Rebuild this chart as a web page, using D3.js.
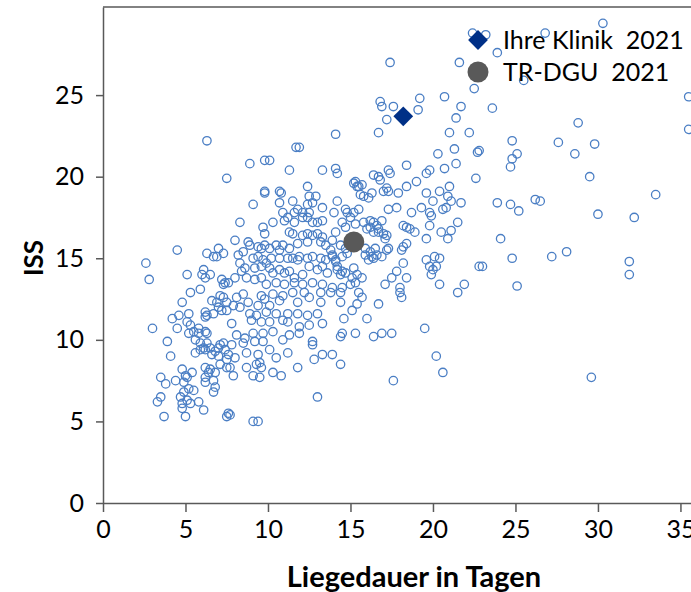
<!DOCTYPE html>
<html>
<head>
<meta charset="utf-8">
<script src="https://cdn.jsdelivr.net/npm/d3@7"></script>
<style>
  body { margin: 0; background: #fff; }
  svg { display: block; font-family: Lato, "Open Sans", sans-serif; }
</style>
</head>
<body>
<svg id="chart" width="691" height="592"></svg>
<script>
// tick labels
var xTicks = [0, 5, 10, 15, 20, 25, 30, 35];
var yTicks = [0, 5, 10, 15, 20, 25];
var legendLabels = ['Ihre Klinik  2021', 'TR-DGU  2021'];

// highlighted markers [Liegedauer, ISS]
var klinik = [18.2, 23.7];
var trdgu = [15.2, 16.0];

// single cases [Liegedauer, ISS]
var patienten = [
  [6.3,22.2],[8.9,20.8],[9.8,21.0],[10.1,21.0],[11.7,21.8],[11.3,20.4],
  [22.4,28.8],[23.2,28.7],[23.9,27.6],[17.4,27.0],[21.6,27.0],[22.5,25.4],[16.8,24.6],[16.9,24.3],
  [17.6,24.3],[19.2,24.8],[19.1,24.1],[20.7,24.9],[21.7,24.3],[23.6,24.2],[21.4,23.6],[17.2,23.5],
  [16.7,22.7],[14.1,22.6],[21.0,22.7],[22.2,22.7],[21.3,21.7],[20.3,21.4],[22.7,21.5],[22.8,21.6],
  [11.9,21.8],[18.4,20.7],[20.7,20.5],[21.4,20.8],[13.3,20.4],[14.1,20.5],[17.3,20.4],[19.8,20.4],
  [30.3,29.4],[26.8,28.8],[25.5,25.9],[35.5,24.9],[35.5,22.9],[28.8,23.3],[24.8,22.2],[27.6,22.1],
  [29.8,22.0],[28.6,21.4],[25.1,21.4],[24.8,21.1],[24.7,20.6],
  [22.6,19.9],[29.5,20.0],[33.5,18.9],[20.4,19.1],[21.0,19.4],[20.9,18.8],[21.1,18.5],[20.0,18.5],
  [21.7,18.4],[23.9,18.4],[24.7,18.3],[25.2,17.9],[26.2,18.6],[26.5,18.5],[30.0,17.7],[32.2,17.5],
  [20.6,18.0],[20.8,18.1],[19.8,17.8],[19.9,17.6],[19.8,17.0],[21.5,17.2],[20.5,16.6],[21.1,16.7],
  [20.9,16.2],[24.1,16.2],[20.1,15.1],[20.4,15.0],[24.8,15.0],[27.2,15.1],[28.1,15.4],[31.9,14.8],
  [31.9,14.0],[20.2,14.5],[20.0,14.3],[19.9,14.0],[22.8,14.5],[23.0,14.5],[20.4,13.4],[21.9,13.4],
  [21.5,12.9],[25.1,13.3],
  [20.2,9.0],[20.6,8.0],[29.6,7.7],
  [14.4,12.9],[15.5,12.9],[15.7,12.6],[18.0,12.9],[18.1,12.6],[14.4,12.3],[15.4,12.2],[16.7,12.2],
  [15.1,11.8],[14.6,11.3],[16.0,11.3],[14.4,10.2],[14.5,10.4],[15.3,10.4],[16.4,10.2],[16.9,10.4],
  [17.5,10.4],[19.5,10.7],[13.9,9.1],[14.4,8.5],[17.6,7.5],
  [5.3,12.9],[5.9,13.1],[4.8,12.3],[4.2,11.3],[4.6,11.5],[5.2,11.6],[5.1,11.1],[4.5,10.7],[3.0,10.7],
  [5.3,10.9],[5.5,10.5],[5.2,10.4],[5.8,10.7],[5.8,10.4],[6.2,10.5],[6.3,10.4],[6.2,11.7],[6.3,11.5],
  [6.2,11.4],[6.6,12.4],[6.9,12.3],[7.1,12.7],[7.3,12.6],[7.5,12.3],[7.5,11.8],[7.2,11.8],[7.0,12.0],
  [6.7,11.6],[3.9,9.9],[4.1,9.0],[5.6,10.0],[5.9,9.8],[6.1,9.5],[5.9,9.4],[6.3,9.8],[6.2,9.4],
  [5.6,9.2],[6.5,9.5],[6.6,9.1],[6.8,9.3],[7.0,9.5],[7.1,9.7],[7.3,9.8],[7.4,9.4],[7.6,9.1],[7.5,8.8],
  [7.0,9.0],[7.1,8.5],[7.5,8.3],[7.7,8.3],[6.2,8.3],[6.5,8.2],[6.4,8.0],[6.8,8.0],[4.8,8.2],[5.0,7.8],
  [5.4,8.0],[5.1,7.7],[3.5,7.7],[3.8,7.3],[4.4,7.5],[4.9,7.4],[5.2,7.0],[4.9,6.8],[4.7,6.5],[5.1,6.3],
  [5.5,6.9],[6.2,7.4],[6.2,7.7],[6.7,7.5],[6.8,7.1],[6.7,6.8],[3.5,6.5],[3.3,6.2],[4.8,6.1],[4.8,5.8],
  [5.3,6.1],[5.8,6.2],[6.1,5.7],[5.0,5.3],[3.7,5.3],[7.5,5.3],[7.6,5.5],
  [7.5,19.9],[4.5,15.5],[2.6,14.7],[2.8,13.7],[5.1,14.0],[6.3,15.3],[6.7,15.1],[6.9,15.1],[7.0,15.6],
  [7.3,15.3],[6.1,14.3],[6.0,14.0],[6.2,13.8],[6.5,14.0],[7.2,13.7],[7.4,13.5],[7.3,13.4],[7.6,13.5],
  [12.4,19.4],[9.8,19.1],[9.8,19.0],[10.7,19.1],[10.8,19.0],[9.1,18.3],[10.7,18.4],[11.5,18.5],
  [12.5,18.8],[12.9,18.8],[12.4,18.3],[12.7,18.4],[13.3,18.1],[11.8,18.0],[12.1,17.8],[11.6,17.8],
  [10.9,17.8],[11.2,17.5],[11.0,17.3],[10.3,17.2],[9.7,16.9],[9.8,16.5],[8.3,17.2],[11.6,17.2],
  [12.1,17.5],[12.4,17.5],[12.5,17.8],[12.7,17.2],[13.0,17.2],[13.3,17.3],[11.3,16.6],[11.5,16.5],
  [12.1,16.4],[12.4,16.5],[12.7,16.4],[13.0,16.5],[13.3,16.3],[8.0,16.1],[8.8,16.0],[8.9,15.8],
  [9.4,15.7],[9.6,15.6],[9.8,15.8],[10.1,15.6],[10.5,15.8],[10.7,15.5],[10.9,15.8],[11.3,15.6],
  [11.8,15.9],[12.4,16.0],[13.2,16.0],[13.5,15.8],[8.2,15.2],[8.5,15.4],[8.3,14.7],[8.6,14.4],
  [8.4,14.2],[9.1,15.0],[9.4,15.1],[9.7,14.9],[9.9,14.7],[9.6,14.5],[9.2,14.4],[10.2,15.0],
  [10.7,15.0],[11.2,15.0],[11.5,15.0],[11.8,14.9],[11.9,15.1],[12.4,15.0],[12.7,15.1],[13.2,15.0],
  [13.5,14.9],[10.1,14.4],[10.3,14.1],[10.7,14.3],[11.0,14.1],[11.3,14.2],[11.6,13.8],[12.1,14.0],
  [12.5,14.5],[13.0,14.3],[13.3,14.5],[13.6,14.1],[8.0,13.8],[8.7,13.8],[9.2,13.7],[9.6,13.8],
  [9.9,13.4],[10.5,13.5],[11.0,13.4],[11.6,13.5],[12.1,13.4],[12.7,13.5],[13.3,13.4],
  [14.2,20.2],[16.4,20.1],[16.7,20.0],[16.8,19.8],[17.4,20.2],[19.6,20.2],[15.3,19.7],[15.2,19.6],
  [15.4,19.4],[15.7,19.5],[15.5,19.4],[19.0,19.7],[18.4,19.4],[17.2,19.3],[17.3,19.1],[17.0,19.1],
  [17.9,19.0],[15.6,18.9],[15.8,18.8],[16.3,19.0],[16.1,18.7],[14.2,18.5],[19.6,19.0],[17.8,18.1],
  [17.3,18.0],[18.7,17.8],[19.3,18.1],[14.7,18.0],[14.8,17.8],[15.2,17.8],[15.5,18.0],[14.0,17.8],
  [15.8,17.2],[16.2,17.3],[16.4,17.2],[16.9,17.3],[16.2,16.9],[16.0,16.8],[16.6,17.0],[16.7,16.8],
  [16.7,16.6],[16.4,16.6],[15.0,17.5],[15.3,17.1],[14.7,16.9],[14.5,17.2],[14.1,16.6],[18.2,17.0],
  [18.4,16.9],[18.6,16.8],[18.9,16.6],[17.2,16.4],[17.1,16.2],[17.0,16.5],[17.3,15.6],[19.6,16.2],
  [18.4,15.9],[18.2,15.7],[18.1,15.5],[13.9,16.1],[13.8,15.5],[13.9,15.2],[13.9,15.1],[14.1,14.9],
  [14.4,15.8],[14.7,15.6],[14.8,15.3],[14.5,15.1],[15.9,15.6],[16.2,15.4],[15.9,15.2],[16.3,15.1],
  [16.1,14.9],[16.4,15.0],[16.6,15.2],[16.9,15.1],[17.2,15.5],[16.5,15.6],[14.2,14.5],[14.2,14.3],
  [14.5,14.2],[14.4,14.0],[14.7,14.1],[14.1,14.8],[15.2,14.4],[15.1,13.8],[15.4,14.0],[15.7,13.8],
  [15.3,13.5],[17.8,14.2],[18.2,14.7],[18.4,13.8],[17.5,13.8],[17.1,13.4],[18.0,13.2],[14.5,13.2],
  [15.0,13.4],[13.9,13.2],[13.8,12.9],[19.6,14.9],[19.8,14.5],
  [8.5,12.8],[8.1,12.6],[9.6,12.7],[9.8,12.5],[10.3,12.8],[10.9,12.7],[11.5,12.9],[12.2,12.9],
  [13.2,12.9],[12.5,12.6],[13.2,12.3],[11.8,12.3],[10.7,12.4],[10.1,12.1],[9.4,12.1],[8.8,12.3],
  [7.9,12.1],[8.3,12.0],[8.9,11.6],[9.3,11.5],[9.9,11.7],[10.5,11.6],[11.2,11.6],[11.8,11.6],
  [12.4,11.5],[13.0,11.6],[13.3,11.0],[12.5,10.9],[11.9,10.8],[11.2,11.1],[10.9,11.2],[10.1,11.1],
  [9.6,11.1],[9.0,11.2],[7.8,11.0],[8.1,10.3],[8.6,10.1],[9.1,10.4],[9.7,10.4],[10.3,10.5],
  [10.9,10.0],[11.3,10.3],[11.9,10.4],[12.7,9.9],[12.7,9.7],[13.3,9.1],[12.8,8.8],[7.8,9.7],
  [8.5,9.8],[9.2,9.9],[9.7,9.9],[10.1,9.4],[11.2,9.2],[10.5,8.9],[11.8,8.3],[8.7,9.2],[8.0,8.9],
  [9.4,9.1],[9.5,8.6],[9.3,8.5],[9.6,8.3],[8.7,8.3],[7.9,7.8],[9.1,7.8],[9.5,7.7],[10.3,8.0],
  [10.8,7.8],[13.0,6.5],[7.7,5.4],[9.1,5.0],[9.4,5.0]
];

var svg = d3.select('#chart');

var x = d3.scaleLinear().domain([0, 35.64]).range([103, 691]);
var y = d3.scaleLinear().domain([0, 30.4]).range([503, 7]);

var axisColor = '#595959';

// top frame line
svg.append('line')
  .attr('x1', x(0)).attr('x2', x(35.64))
  .attr('y1', y(30.4)).attr('y2', y(30.4))
  .style('stroke', axisColor)
  .style('stroke-width', 1.5);

var xAxis = svg.append('g')
  .attr('transform', 'translate(0,' + y(0) + ')')
  .call(d3.axisBottom(x).tickValues(xTicks).tickSize(9).tickSizeOuter(0).tickPadding(8));

var yAxis = svg.append('g')
  .attr('transform', 'translate(' + x(0) + ',0)')
  .call(d3.axisLeft(y).tickValues(yTicks).tickSize(7).tickSizeOuter(0).tickPadding(12));

svg.selectAll('.domain, .tick line')
  .style('stroke', axisColor)
  .style('stroke-width', 1.5);

svg.selectAll('.tick text')
  .style('font-family', 'Lato, sans-serif')
  .style('font-size', '25px')
  .style('fill', '#000');

// cases
svg.append('g').selectAll('circle')
  .data(patienten)
  .enter()
  .append('circle')
  .attr('cx', function(d) { return x(d[0]); })
  .attr('cy', function(d) { return y(d[1]); })
  .attr('r', 4.2)
  .style('fill', 'none')
  .style('stroke', '#4a7ec4')
  .style('stroke-width', 1.3);

// TR-DGU reference
svg.append('circle')
  .attr('cx', x(trdgu[0]))
  .attr('cy', y(trdgu[1]))
  .attr('r', 10.5)
  .style('fill', '#595959');

// own clinic
svg.append('rect')
  .attr('x', -7).attr('y', -7)
  .attr('width', 14).attr('height', 14)
  .attr('transform', 'translate(' + x(klinik[0]) + ',' + y(klinik[1]) + ') rotate(45)')
  .style('fill', '#003087');

// legend
var legend = svg.append('g').attr('transform', 'translate(478,40)');
legend.append('rect')
  .attr('x', -7).attr('y', -7)
  .attr('width', 14).attr('height', 14)
  .attr('transform', 'rotate(45)')
  .style('fill', '#003087');
legend.append('circle')
  .attr('cx', 0).attr('cy', 32)
  .attr('r', 10.5)
  .style('fill', '#595959');
legend.selectAll('text.leg')
  .data(legendLabels)
  .enter()
  .append('text')
  .attr('class', 'leg')
  .attr('x', 25)
  .attr('y', function(d, i) { return i * 32 + 9; })
  .style('white-space', 'pre')
  .style('font-size', '25px')
  .style('fill', '#000')
  .text(function(d) { return d; });

// axis titles
svg.append('text')
  .attr('transform', 'translate(43,258) rotate(-90)')
  .attr('text-anchor', 'middle')
  .style('font-size', '26px')
  .style('font-weight', 'bold')
  .text('ISS');

svg.append('text')
  .attr('x', 414)
  .attr('y', 587)
  .attr('text-anchor', 'middle')
  .style('font-size', '29px')
  .style('font-weight', 'bold')
  .text('Liegedauer in Tagen');
</script>
</body>
</html>
